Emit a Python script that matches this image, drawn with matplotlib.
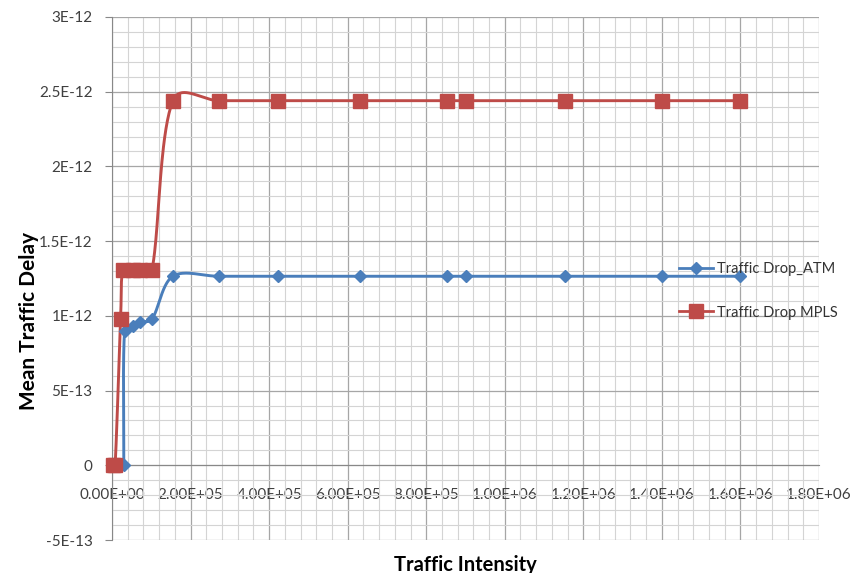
import numpy as np
import matplotlib
matplotlib.use("Agg")
import matplotlib.pyplot as plt
from matplotlib.ticker import MultipleLocator

# ---- data ----
atm_x = [3.0e4, 3.2e4, 5.3e4, 7.1e4, 1.02e5, 1.55e5, 2.72e5, 4.22e5, 6.31e5,
         8.52e5, 9.0e5, 1.153e6, 1.40e6, 1.598e6]
atm_y = [0.0, 0.90e-12, 0.93e-12, 0.96e-12, 0.98e-12, 1.265e-12, 1.265e-12,
         1.265e-12, 1.265e-12, 1.265e-12, 1.265e-12, 1.265e-12, 1.265e-12, 1.265e-12]

mpls_x = [3e3, 8e3, 2.2e4, 2.8e4, 5.3e4, 7.1e4, 1.02e5, 1.55e5, 2.72e5, 4.22e5,
          6.31e5, 8.52e5, 9.0e5, 1.153e6, 1.40e6, 1.598e6]
mpls_y = [0.0, 0.0, 0.98e-12, 1.31e-12, 1.31e-12, 1.31e-12, 1.31e-12, 2.44e-12,
          2.44e-12, 2.44e-12, 2.44e-12, 2.44e-12, 2.44e-12, 2.44e-12, 2.44e-12, 2.44e-12]

x_ticks = [0, 2e5, 4e5, 6e5, 8e5, 1e6, 1.2e6, 1.4e6, 1.6e6, 1.8e6]
x_tick_labels = ["0.00E+00", "2.00E+05", "4.00E+05", "6.00E+05", "8.00E+05",
                 "1.00E+06", "1.20E+06", "1.40E+06", "1.60E+06", "1.80E+06"]
y_ticks = [-5e-13, 0, 5e-13, 1e-12, 1.5e-12, 2e-12, 2.5e-12, 3e-12]
y_tick_labels = ["-5E-13", "0", "5E-13", "1E-12", "1.5E-12", "2E-12", "2.5E-12", "3E-12"]

series_names = ["Traffic Drop_ATM", "Traffic Drop MPLS"]
blue = "#4a7ebb"
red = "#be4b48"

plt.rcParams['font.family'] = ['Lato', 'DejaVu Sans']

fig = plt.figure(figsize=(8.55, 5.73), dpi=100)
ax = fig.add_axes([112/855, 1-540/573, (819-112)/855, (540-17)/573])

ax.set_xlim(0, 1.8e6)
ax.set_ylim(-5e-13, 3e-12)

ax.xaxis.set_minor_locator(MultipleLocator(4e4))
ax.yaxis.set_minor_locator(MultipleLocator(1e-13))
ax.grid(which='major', color='#a6a6a6', linewidth=0.9)
ax.grid(which='minor', color='#d4d4d4', linewidth=0.8)
ax.set_axisbelow(True)

ax.set_xticks(x_ticks)
ax.set_xticklabels(x_tick_labels)
ax.set_yticks(y_ticks)
ax.set_yticklabels(y_tick_labels)
ax.tick_params(axis='both', which='minor', length=0)
ax.tick_params(axis='x', which='major', length=0, labelsize=11, labelcolor='#404040', pad=16)
ax.tick_params(axis='y', which='major', length=5, color='#888888', labelsize=11,
               labelcolor='#404040', pad=9)

ax.spines['top'].set_visible(False)
ax.spines['right'].set_visible(False)
ax.spines['bottom'].set_position(('data', 0))
ax.spines['bottom'].set_color('#888888')
ax.spines['left'].set_color('#888888')

ax.set_xlabel("Traffic Intensity", fontsize=14.5, fontweight='bold', labelpad=0)
ax.xaxis.set_label_coords(0.5, -0.028)
ax.set_ylabel("Mean Traffic Delay", fontsize=15, fontweight='bold')
ax.yaxis.set_label_coords(-0.103, 0.418)


def smooth(xs, ys, n=40):
    """Smoothed line through the points (Bezier in display space)."""
    pts = ax.transData.transform(np.column_stack([xs, ys]))
    P = np.vstack([pts[0], pts, pts[-1]])
    d = np.linalg.norm(np.diff(P, axis=0), axis=1)
    out = []
    t = np.linspace(0, 1, n)[:, None]
    for i in range(1, len(P) - 2):
        p0, p1, p2, p3 = P[i - 1], P[i], P[i + 1], P[i + 2]
        dp, dc, dn = d[i - 1], d[i], d[i + 1]
        w1 = dc / (dp + dc) if (dp + dc) > 0 else 0.5
        w2 = dc / (dc + dn) if (dc + dn) > 0 else 0.5
        c1 = p1 + (p2 - p0) * np.sqrt(2 * w1) / 6.0
        c2 = p2 - (p3 - p1) * np.sqrt(2 * w2) / 6.0
        seg = ((1 - t) ** 3) * p1 + 3 * ((1 - t) ** 2) * t * c1 + 3 * (1 - t) * t ** 2 * c2 + t ** 3 * p2
        out.append(seg if i == 1 else seg[1:])
    out = np.vstack(out)
    dd = ax.transData.inverted().transform(out)
    return dd[:, 0], dd[:, 1]


bx, by = smooth(atm_x, atm_y)
rx, ry = smooth(mpls_x, mpls_y)
ax.plot(bx, by, color=blue, linewidth=2.1, zorder=3, clip_on=False)
ax.plot(atm_x, atm_y, linestyle='none', marker='D', markersize=6.5, color=blue, zorder=4, clip_on=False)
ax.plot(rx, ry, color=red, linewidth=2.1, zorder=3, clip_on=False)
ax.plot(mpls_x, mpls_y, linestyle='none', marker='s', markersize=9.5, color=red, zorder=4, clip_on=False)

h1, = ax.plot([], [], color=blue, linewidth=2.0, marker='D', markersize=6.5)
h2, = ax.plot([], [], color=red, linewidth=2.0, marker='s', markersize=9.5)
fig.legend([h1, h2], series_names, loc='center left',
           bbox_to_anchor=(666/855, 1-291/573), frameon=False, fontsize=10.5,
           handlelength=2.3, handletextpad=0.3, labelspacing=2.0, labelcolor='#333333')

fig.savefig("out.png", dpi=100, facecolor='white')
